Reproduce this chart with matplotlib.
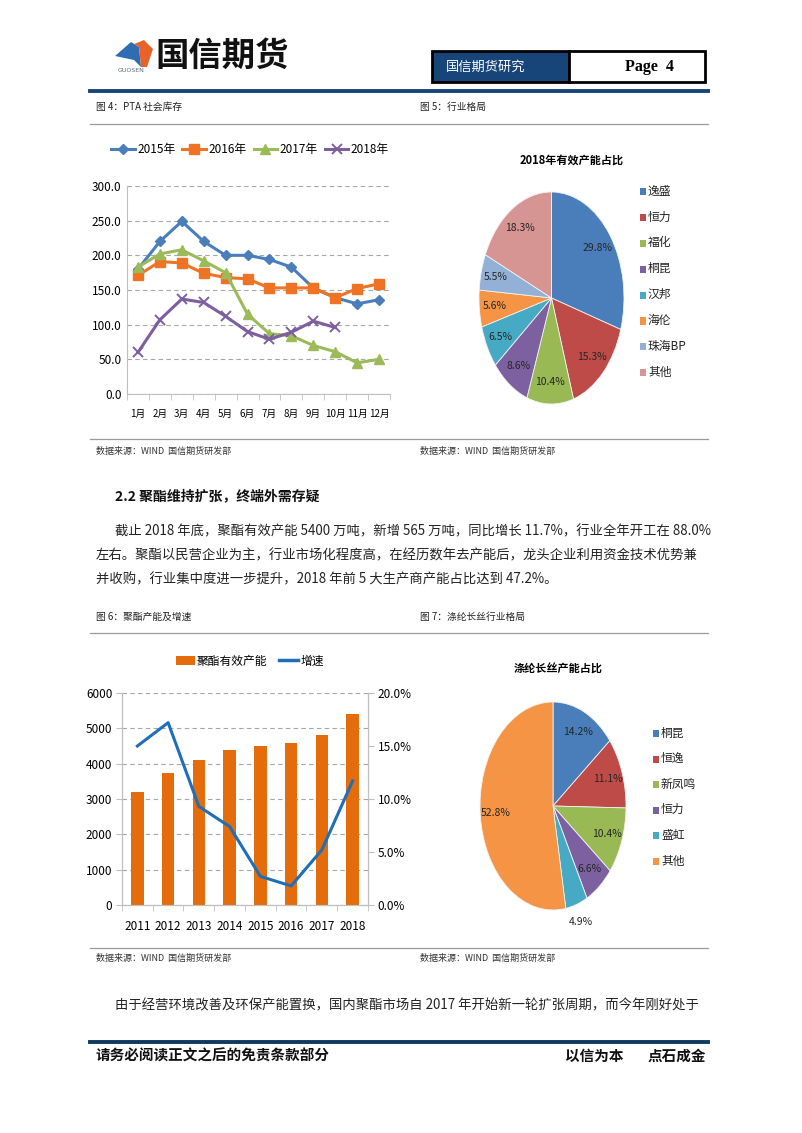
import numpy as np
import matplotlib
matplotlib.use('Agg')
import matplotlib.pyplot as plt
from matplotlib.patches import Rectangle, Polygon, Patch
from matplotlib.lines import Line2D

plt.rcParams['font.family'] = ['Noto Sans CJK SC', 'DejaVu Sans']
plt.rcParams['axes.unicode_minus'] = False

W, H = 802, 1133

# 图4: PTA 社会库存 (万吨)
months = ['1月', '2月', '3月', '4月', '5月', '6月', '7月', '8月', '9月', '10月', '11月', '12月']
stock_2015 = [180, 220, 249, 220, 200, 200, 194, 183, 153, 139, 130, 136]
stock_2016 = [171, 191, 189, 174, 168, 166, 153, 153, 153, 139, 152, 159]
stock_2017 = [183, 202, 208, 192, 175, 115, 87, 84, 70, 61, 45, 50]
stock_2018 = [60, 107, 137, 132, 112, 90, 79, 89, 105, 96]

# 图5: 行业格局
pta_names = ['逸盛', '恒力', '福化', '桐昆', '汉邦', '海伦', '珠海BP', '其他']
pta_share = [29.8, 15.3, 10.4, 8.6, 6.5, 5.6, 5.5, 18.3]
pta_colors = ['#4A7EBB', '#BE4B48', '#98B954', '#7D60A0', '#46AAC5', '#F59445', '#93B1D6', '#D69492']

# 图6: 聚酯产能及增速
years = ['2011', '2012', '2013', '2014', '2015', '2016', '2017', '2018']
capacity = [3200, 3750, 4090, 4400, 4500, 4590, 4820, 5400]
growth = [15.0, 17.2, 9.3, 7.4, 2.7, 1.8, 5.2, 11.7]

# 图7: 涤纶长丝行业格局
fdy_names = ['桐昆', '恒逸', '新凤鸣', '恒力', '盛虹', '其他']
fdy_share = [14.2, 11.1, 10.4, 6.6, 4.9, 52.8]
fdy_colors = ['#4A7EBB', '#BE4B48', '#98B954', '#7D60A0', '#46AAC5', '#F59445']

NAVY = '#17457A'
GRID = '#A6A6A6'
AXC = '#BFBFBF'

fig = plt.figure(figsize=(W / 100, H / 100), dpi=100)


def px_axes(l, t, r, b):
    return fig.add_axes([l / W, 1 - b / H, (r - l) / W, (b - t) / H])


def ptext(x, y, s, **kw):
    kw.setdefault('va', 'center')
    return fig.text(x / W, 1 - y / H, s, **kw)


def hline(y, x0=90, x1=708, color='#9A9A9A', lw=0.9):
    fig.add_artist(Line2D([x0 / W, x1 / W], [1 - y / H, 1 - y / H], color=color, lw=lw))


def prect(l, t, r, b, **kw):
    fig.add_artist(Rectangle((l / W, 1 - b / H), (r - l) / W, (b - t) / H,
                             transform=fig.transFigure, **kw))


def ppoly(pts, **kw):
    fig.add_artist(Polygon([(x / W, 1 - y / H) for x, y in pts],
                           closed=True, transform=fig.transFigure, **kw))


# ---- 页眉 ----
ppoly([(115, 56), (131, 42), (139, 47), (141, 67), (134, 60)], facecolor='#2E6DB4', edgecolor='none')
ppoly([(134, 44), (144, 40), (153, 49), (147, 67), (141, 67), (139, 47)], facecolor='#E8632A', edgecolor='none')
ptext(131, 71, 'GUOSEN', fontsize=4.5, color='#5A6A80', ha='center', family='DejaVu Sans')
ptext(155, 56, '国信期货', fontsize=24, fontweight='heavy', color='#111111', ha='left')

prect(432, 51, 569, 82, facecolor=NAVY, edgecolor='black', lw=2)
prect(569, 51, 705, 82, facecolor='white', edgecolor='black', lw=2)
ptext(446, 67, '国信期货研究', fontsize=9.5, color='white', ha='left')
ptext(649, 67, 'Page  4', fontsize=11.5, color='black', ha='center',
      family='Liberation Serif', fontweight='bold')
hline(91, 90, 708, color=NAVY, lw=2.8)

# ---- 图4/图5 标题 ----
ptext(96, 107, '图 4：PTA 社会库存', fontsize=7, color='#222222')
ptext(420, 107, '图 5：行业格局', fontsize=7, color='#222222')
hline(124)

# ---- 图4 折线 ----
ax1 = px_axes(127, 186, 390, 394)
x = np.arange(len(months))
ax1.plot(x, stock_2015, color='#4A7EBB', lw=2.2, marker='D', ms=5.5, label='2015年')
ax1.plot(x, stock_2016, color='#EE7325', lw=2.2, marker='s', ms=7, label='2016年')
ax1.plot(x, stock_2017, color='#9BBB59', lw=2.2, marker='^', ms=7, label='2017年')
ax1.plot(x[:len(stock_2018)], stock_2018, color='#7D5FA0', lw=2.2, marker='x', ms=7, mew=1.4, label='2018年')
ax1.set_xlim(-0.5, 11.5)
ax1.set_ylim(0, 300)
ax1.set_yticks(np.arange(0, 301, 50))
ax1.set_yticklabels(['%.1f' % v for v in np.arange(0, 301, 50)])
ax1.set_xticks(x)
ax1.set_xticklabels(months)
ax1.set_xticks(np.arange(-0.5, 12, 1), minor=True)
ax1.tick_params(axis='x', which='major', length=0, pad=11, labelsize=7)
ax1.tick_params(axis='x', which='minor', length=4, color=AXC)
ax1.tick_params(axis='y', length=0, pad=4, labelsize=8.5)
ax1.yaxis.grid(True, color=GRID, lw=0.8, ls=(0, (4, 3)))
ax1.set_axisbelow(True)
for s in ['top', 'right']:
    ax1.spines[s].set_visible(False)
for s in ['left', 'bottom']:
    ax1.spines[s].set_color(AXC)
h1, l1 = ax1.get_legend_handles_labels()
fig.legend(h1, l1, loc='center', bbox_to_anchor=(250 / W, 1 - 150 / H), ncol=4,
           frameon=False, fontsize=8.5, handlelength=2.0, handletextpad=0.2,
           columnspacing=0.6, borderaxespad=0)


# ---- 饼图 ----
def draw_pie(box, shares, colors, names, title, title_xy, leg_x, leg_y0, leg_step, outside=()):
    ax = px_axes(*box)
    wedges, texts, autotexts = ax.pie(
        shares, colors=colors, startangle=90, counterclock=False,
        autopct='%.1f%%', pctdistance=0.79,
        wedgeprops=dict(edgecolor='#F2F2F2', linewidth=0.6),
        textprops=dict(fontsize=7.5, color='#262626'))
    ax.set_aspect('auto')
    ax.set_xlim(-1, 1)
    ax.set_ylim(-1, 1)
    for i in outside:
        px, py = autotexts[i].get_position()
        autotexts[i].set_position((px * 1.18 / 0.79, py * 1.18 / 0.79))
    ptext(title_xy[0], title_xy[1], title, fontsize=8, fontweight='bold', ha='center')
    for i, (n, c) in enumerate(zip(names, colors)):
        yy = leg_y0 + i * leg_step
        prect(leg_x, yy - 3, leg_x + 6, yy + 4, facecolor=c, edgecolor='none')
        ptext(leg_x + 8, yy, n, fontsize=8.5, color='#222222', ha='left')
    return ax


draw_pie((479, 192, 624, 404), pta_share, pta_colors, pta_names,
         '2018年有效产能占比', (572, 160), 640, 191, 25.9)

# ---- 图4/5 来源 ----
hline(439)
ptext(96, 451, '数据来源：WIND  国信期货研发部', fontsize=6.5, color='#333333')
ptext(420, 451, '数据来源：WIND  国信期货研发部', fontsize=6.5, color='#333333')

# ---- 正文 ----
ptext(115, 496, '2.2 聚酯维持扩张，终端外需存疑', fontsize=10, fontweight='bold', color='#111111')
ptext(115, 531, '截止 2018 年底，聚酯有效产能 5400 万吨，新增 565 万吨，同比增长 11.7%，行业全年开工在 88.0%',
      fontsize=9.6, color='#222222')
ptext(96, 555, '左右。聚酯以民营企业为主，行业市场化程度高，在经历数年去产能后，龙头企业利用资金技术优势兼',
      fontsize=9.6, color='#222222')
ptext(96, 579, '并收购，行业集中度进一步提升，2018 年前 5 大生产商产能占比达到 47.2%。',
      fontsize=9.6, color='#222222')

# ---- 图6/图7 标题 ----
ptext(96, 617, '图 6：聚酯产能及增速', fontsize=7, color='#222222')
ptext(420, 617, '图 7：涤纶长丝行业格局', fontsize=7, color='#222222')
hline(633)

# ---- 图6 柱线 ----
ax3 = px_axes(122, 693, 368, 905)
xb = np.arange(len(years))
ax3.bar(xb, capacity, width=0.4, color='#E46C0A', label='聚酯有效产能', zorder=2)
ax3.set_xlim(-0.5, 7.5)
ax3.set_ylim(0, 6000)
ax3.set_yticks(np.arange(0, 6001, 1000))
ax3.set_xticks(xb)
ax3.set_xticklabels(years)
ax3.set_xticks(np.arange(-0.5, 8, 1), minor=True)
ax3.tick_params(axis='x', which='major', length=0, pad=11, labelsize=8.5)
ax3.tick_params(axis='x', which='minor', length=4, color=AXC)
ax3.tick_params(axis='y', length=4, color=AXC, pad=3, labelsize=8.5)
ax3.yaxis.grid(True, color=GRID, lw=0.8, ls=(0, (4, 3)), zorder=0)
ax3.set_axisbelow(True)
ax3.spines['top'].set_visible(False)
for s in ['left', 'bottom', 'right']:
    ax3.spines[s].set_color(AXC)
ax3b = ax3.twinx()
ax3b.plot(xb, growth, color='#1F6EB8', lw=2.2, label='增速')
ax3b.set_ylim(0, 20)
ax3b.set_yticks(np.arange(0, 21, 5))
ax3b.set_yticklabels(['%.1f%%' % v for v in np.arange(0, 21, 5)])
ax3b.tick_params(axis='y', length=4, color=AXC, pad=3, labelsize=8.5)
ax3b.spines['top'].set_visible(False)
for s in ['left', 'bottom', 'right']:
    ax3b.spines[s].set_color(AXC)
h3 = [Patch(facecolor='#E46C0A'), Line2D([], [], color='#1F6EB8', lw=2.5)]
fig.legend(h3, ['聚酯有效产能', '增速'], loc='center', bbox_to_anchor=(250 / W, 1 - 661 / H),
           ncol=2, frameon=False, fontsize=8.5, handlelength=1.6, handleheight=0.9,
           handletextpad=0.2, columnspacing=1.0, borderaxespad=0)

# ---- 图7 饼图 ----
draw_pie((480, 702, 626, 910), fdy_share, fdy_colors, fdy_names,
         '涤纶长丝产能占比', (558, 669), 653, 733, 25.6, outside=(4,))

# ---- 图6/7 来源 ----
hline(948)
ptext(96, 958, '数据来源：WIND  国信期货研发部', fontsize=6.5, color='#333333')
ptext(420, 958, '数据来源：WIND  国信期货研发部', fontsize=6.5, color='#333333')

ptext(115, 1005, '由于经营环境改善及环保产能置换，国内聚酯市场自 2017 年开始新一轮扩张周期，而今年刚好处于',
      fontsize=9.6, color='#222222')

# ---- 页脚 ----
hline(1042, 90, 708, color='#0E3A5E', lw=2.8)
ptext(96, 1056, '请务必阅读正文之后的免责条款部分', fontsize=10.5, fontweight='bold', color='#111111')
ptext(565, 1056, '以信为本', fontsize=10.5, fontweight='bold', color='#111111')
ptext(648, 1056, '点石成金', fontsize=10.5, fontweight='bold', color='#111111')

fig.savefig('out.png', dpi=100)
